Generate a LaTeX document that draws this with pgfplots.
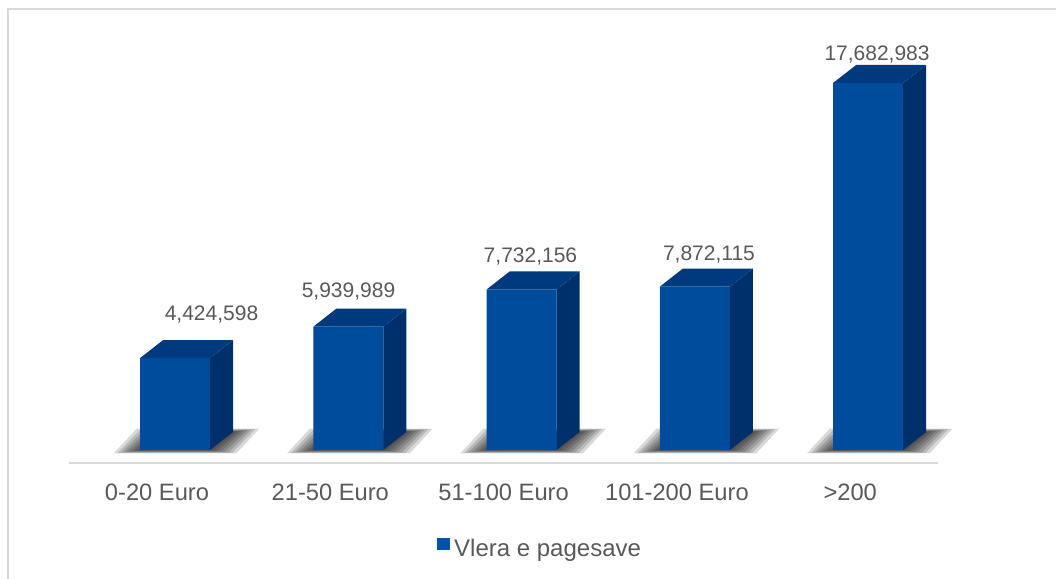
\documentclass[border=0pt]{standalone}
\usepackage{fontspec}
\setmainfont{Liberation Sans}
\usepackage{pgfplots}
\usepackage{pgfplotstable}
\pgfplotsset{compat=1.18}
\definecolor{frontblue}{RGB}{0,76,156}
\definecolor{sideblue}{RGB}{0,48,107}
\definecolor{topblue}{RGB}{0,58,126}
\definecolor{legendblue}{RGB}{0,82,170}
\definecolor{labelgray}{RGB}{89,89,89}
\definecolor{axisgray}{RGB}{217,217,217}
\definecolor{framegray}{RGB}{217,217,217}

\pgfplotstableread{
x lbl value
0 {0-20 Euro} 4424598
1 {21-50 Euro} 5939989
2 {51-100 Euro} 7732156
3 {101-200 Euro} 7872115
4 {>200} 17682983
}\datatable

% geometry of the 3D boxes (axis units)
\def\halfw{0.20196}
\def\ddx{0.13272}
\def\ddy{0.86705}

\newcommand\shadowlayer[2]{%
  \pgfmathsetmacro\sa{\fl-#1}\pgfmathsetmacro\sb{\fr+#1}%
  \pgfmathsetmacro\sc{\br+#1}\pgfmathsetmacro\sd{\bl-#1}%
  \pgfmathsetmacro\sy{-#2}\pgfmathsetmacro\sY{\ddy+#2}%
  \edef\cmd{\noexpand\addplot[forget plot, draw=none, fill=black, fill opacity=0.15] coordinates {(\sa,\sy) (\sb,\sy) (\sc,\sY) (\sd,\sY)};}\cmd}

\newcommand\getvalue[1]{%
  \pgfplotstablegetelem{#1}{value}\of\datatable
  \begingroup
  \pgfkeys{/pgf/fpu=true,/pgf/fpu/output format=fixed}%
  \pgfmathparse{\pgfplotsretval/1000000}\xdef\v{\pgfmathresult}%
  \endgroup
  \pgfmathsetmacro\fl{#1-\halfw}\pgfmathsetmacro\fr{#1+\halfw}%
  \pgfmathsetmacro\bl{\fl+\ddx}\pgfmathsetmacro\br{\fr+\ddx}%
  \pgfmathsetmacro\vt{\v+\ddy}}

\begin{document}
\begin{tikzpicture}
\useasboundingbox (-69pt,-115pt) rectangle (987pt,463pt);
\draw[framegray, line width=1.5pt] (-61pt,-130pt) -- (-61pt,454pt) -- (1000pt,454pt);
\begin{axis}[
  at={(0pt,0pt)}, anchor=south west,
  scale only axis, width=869pt, height=443pt,
  xmin=-0.6117, xmax=4.4027, ymin=-0.6262, ymax=20.713,
  axis x line=bottom, axis y line=none,
  x axis line style={-, draw=axisgray, line width=1.5pt},
  xtick={0,...,4}, xticklabels from table={\datatable}{lbl},
  xtick style={draw=none}, major tick length=0pt,
  tick label style={font=\fontsize{23.7}{28}\selectfont},
  xticklabel style={anchor=base, yshift=-37pt, xshift=-18pt, text=labelgray},
  ytick=\empty,
  clip=false,
  legend style={draw=none, fill=none, at={(0.4235,-0.1919)}, anchor=west, inner sep=0pt,
    nodes={inner sep=0pt}, column sep=4pt,
    font=\fontsize{24}{28}\selectfont, text=labelgray},
]
% shadows
\pgfplotsforeachungrouped \i in {0,...,4}{%
  \getvalue{\i}%
  \shadowlayer{0.018}{0.020}%
  \shadowlayer{0.040}{0.044}%
  \shadowlayer{0.062}{0.068}%
  \shadowlayer{0.084}{0.092}%
  \shadowlayer{0.106}{0.116}%
  \shadowlayer{0.128}{0.140}%
  \shadowlayer{0.152}{0.164}%
}
% front faces
\addplot[ybar, bar width=70pt, bar shift=0pt, fill=frontblue, draw=none,
  legend image code/.code={\fill[legendblue] (0pt,-1pt) rectangle (13pt,11pt);}]
  table[x=x, y expr=\thisrow{value}/1000000] {\datatable};
\addlegendentry{Vlera e pagesave}
% side and top faces
\pgfplotsforeachungrouped \i in {0,...,4}{%
  \getvalue{\i}%
  \edef\cmd{\noexpand\addplot[forget plot, draw=none, fill=sideblue] coordinates {(\fr,0) (\br,\ddy) (\br,\vt) (\fr,\v)};
    \noexpand\addplot[forget plot, draw=none, fill=topblue] coordinates {(\fl,\v) (\fr,\v) (\br,\vt) (\bl,\vt)};}%
  \cmd
}
% data labels
\begin{scope}[every node/.style={anchor=base, font=\fontsize{21}{25}\selectfont, text=labelgray}]
\node at (axis cs:0.2106,6.214) {4,424,598};
\node at (axis cs:1.001,7.322) {5,939,989};
\node at (axis cs:2.051,9.008) {7,732,156};
\node at (axis cs:3.081,9.152) {7,872,115};
\node at (axis cs:4.051,18.786) {17,682,983};
\end{scope}
\end{axis}
\end{tikzpicture}
\end{document}
